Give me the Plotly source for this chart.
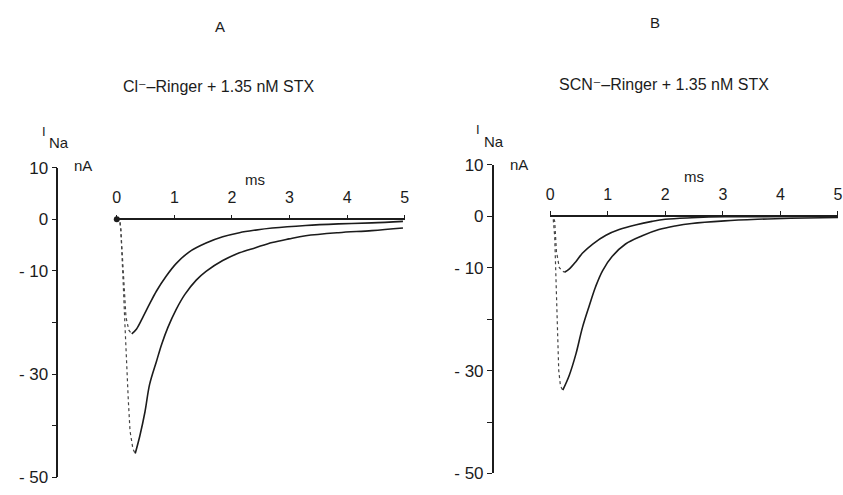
import plotly.graph_objects as go

W, H = 843, 495

# ---------------- data (time in ms, current in nA) ----------------
# Panel A: Cl- Ringer + 1.35 nM STX
a_small_rise_t = [0, 0.05, 0.07, 0.09, 0.11, 0.13, 0.16, 0.21, 0.26]
a_small_rise_i = [0, 0, -2.0, -6.0, -11.0, -15.0, -19.0, -21.5, -22.2]
a_small_decay_t = [0.26, 0.34, 0.46, 0.57, 0.69, 0.86, 1.03, 1.26, 1.55, 1.84,
                   2.13, 2.41, 2.70, 3.28, 3.85, 4.43, 4.97]
a_small_decay_i = [-22.2, -21.3, -18.8, -16.4, -13.9, -11.0, -8.6, -6.3, -4.6, -3.4,
                   -2.6, -2.1, -1.7, -1.2, -0.9, -0.7, -0.4]

a_large_rise_t = [0, 0.05, 0.07, 0.09, 0.11, 0.14, 0.17, 0.20, 0.23, 0.28, 0.32]
a_large_rise_i = [0, 0, -2.0, -6.0, -12.0, -20.0, -28.7, -35.0, -41.0, -44.5, -45.4]
a_large_decay_t = [0.32, 0.40, 0.49, 0.57, 0.69, 0.78, 0.89, 1.03, 1.18, 1.38,
                   1.55, 1.84, 2.13, 2.41, 2.70, 2.99, 3.28, 3.85, 4.43, 4.97]
a_large_decay_i = [-45.4, -42.0, -37.3, -32.0, -27.5, -24.2, -20.9, -17.5, -14.6, -11.8,
                   -10.1, -8.0, -6.5, -5.5, -4.5, -3.8, -3.2, -2.6, -2.2, -1.7]

# Panel B: SCN- Ringer + 1.35 nM STX
b_small_rise_t = [0, 0.05, 0.08, 0.10, 0.11, 0.13, 0.16, 0.21, 0.25]
b_small_rise_i = [0, 0, -1.0, -4.4, -6.9, -8.1, -10.0, -10.6, -10.9]
b_small_decay_t = [0.25, 0.33, 0.45, 0.56, 0.74, 0.97, 1.20, 1.48, 1.77, 2.00,
                   2.46, 3.03, 3.60, 4.20, 5.00]
b_small_decay_i = [-10.9, -10.3, -8.8, -7.2, -5.4, -3.7, -2.6, -1.7, -1.0, -0.6,
                   -0.3, -0.1, -0.1, -0.05, 0.0]

b_large_rise_t = [0, 0.05, 0.08, 0.10, 0.11, 0.12, 0.13, 0.15, 0.18, 0.22]
b_large_rise_i = [0, 0, -4.0, -12.5, -17.1, -21.7, -26.4, -30.0, -33.0, -33.8]
b_large_decay_t = [0.22, 0.33, 0.45, 0.56, 0.68, 0.79, 0.91, 1.08, 1.31, 1.60,
                   1.89, 2.17, 2.46, 3.03, 3.60, 4.18, 5.00]
b_large_decay_i = [-33.8, -31.0, -26.7, -21.7, -17.4, -13.7, -10.6, -7.8, -5.4, -3.8,
                   -2.6, -1.9, -1.4, -0.9, -0.6, -0.4, -0.25]

x_ticks = [0, 1, 2, 3, 4, 5]
y_ticks = [10, 0, -10, -30, -50]
y_ticktext = ["10", "0", "- 10", "- 30", "- 50"]
y_minor_ticks = [-20, -40]

panel_letters = ["A", "B"]
panel_titles = ["Cl\u207b\u2013Ringer + 1.35 nM STX", "SCN\u207b\u2013Ringer + 1.35 nM STX"]

# ---------------- layout helpers ----------------
def px(x):
    return x / W

def py(y):
    return 1 - y / H

INK = "#1c1c1c"
FONT = "Liberation Sans, DejaVu Sans, Arial, sans-serif"

fig = go.Figure()

def add_curve(xa, ya, rt, ri, dt, di):
    fig.add_trace(go.Scatter(x=rt, y=ri, xaxis=xa, yaxis=ya, mode="lines",
                             line=dict(color="#444", width=1.2, dash="dot"),
                             showlegend=False, hoverinfo="skip"))
    fig.add_trace(go.Scatter(x=dt, y=di, xaxis=xa, yaxis=ya, mode="lines",
                             line=dict(color=INK, width=1.6, shape="spline", smoothing=1.0),
                             showlegend=False, hoverinfo="skip"))

add_curve("x", "y", a_small_rise_t, a_small_rise_i, a_small_decay_t, a_small_decay_i)
add_curve("x", "y", a_large_rise_t, a_large_rise_i, a_large_decay_t, a_large_decay_i)
add_curve("x2", "y2", b_small_rise_t, b_small_rise_i, b_small_decay_t, b_small_decay_i)
add_curve("x2", "y2", b_large_rise_t, b_large_rise_i, b_large_decay_t, b_large_decay_i)

# origin blob in panel A
fig.add_trace(go.Scatter(x=[a_small_rise_t[0]], y=[a_small_rise_i[0]], xaxis="x", yaxis="y",
                         mode="markers", marker=dict(color=INK, size=6),
                         showlegend=False, hoverinfo="skip", cliponaxis=False))

ydomA = [py(487), py(165)]
ydomB = [py(483), py(162)]

def xaxis(domain, pos):
    return dict(domain=domain, range=[0, 5], anchor="free", position=pos, side="top",
                showline=True, linecolor=INK, linewidth=1.5, ticks="outside", ticklen=4,
                tickwidth=1.2, tickcolor=INK, tickvals=x_ticks, showgrid=False,
                zeroline=False, ticklabelstandoff=5, ticklabeloverflow="allow",
                tickfont=dict(size=16, color=INK, family=FONT))

def yaxis(domain, pos):
    return dict(domain=domain, range=[-50, 10], anchor="free", position=pos,
                showline=True, linecolor=INK, linewidth=1.5, ticks="outside", ticklen=5,
                tickwidth=1.2, tickcolor=INK, tickvals=y_ticks, ticktext=y_ticktext,
                minor=dict(tickmode="array", tickvals=y_minor_ticks, ticks="outside",
                           ticklen=5, tickwidth=1.2, tickcolor=INK, showgrid=False),
                showgrid=False, zeroline=False, ticklabeloverflow="allow",
                tickfont=dict(size=17, color=INK, family=FONT))

zeroA = ydomA[0] + (50 / 60) * (ydomA[1] - ydomA[0])
zeroB = ydomB[0] + (50 / 60) * (ydomB[1] - ydomB[0])

fig.update_layout(
    width=W, height=H,
    margin=dict(l=0, r=0, t=0, b=0),
    paper_bgcolor="white", plot_bgcolor="white",
    font=dict(family=FONT, color=INK, size=15),
    xaxis=xaxis([px(114), px(405)], zeroA),
    yaxis=yaxis(ydomA, px(54)),
    xaxis2=xaxis([px(552), 1.0], zeroB),
    yaxis2=yaxis(ydomB, px(494)),
)

ann = []
def text(x, y, s, size=15):
    ann.append(dict(x=px(x), y=py(y), xref="paper", yref="paper", text=s,
                    showarrow=False, xanchor="center", yanchor="middle",
                    font=dict(size=size, color=INK, family=FONT)))

text(218, 18, panel_letters[0], 15)
text(658, 14, panel_letters[1], 15)
text(217, 81, panel_titles[0], 16)
text(667, 79, panel_titles[1], 16)
text(40, 127, "I", 13)
text(56, 139, "Na", 15)
text(479, 125, "I", 13)
text(495, 138, "Na", 15)
text(80, 163, "nA", 15)
text(521, 162, "nA", 15)
text(254, 177, "ms", 15)
text(697, 174, "ms", 15)
fig.update_layout(annotations=ann)

fig.write_html("out.html")
